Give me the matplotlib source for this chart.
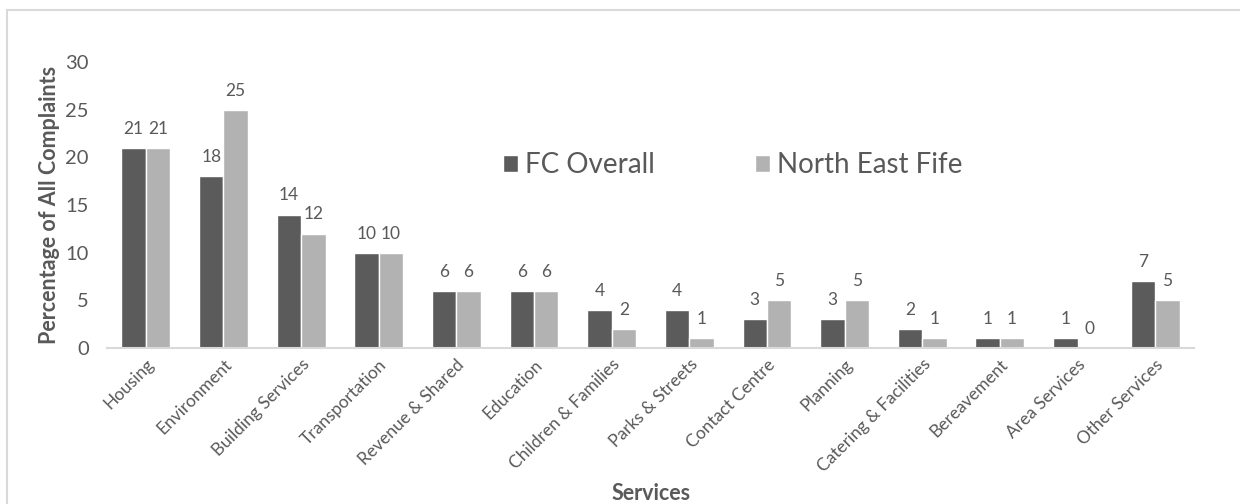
import matplotlib.pyplot as plt
import matplotlib.patches as mpatches
import numpy as np

plt.rcParams['font.family'] = ['Lato', 'DejaVu Sans']

services = ["Housing", "Environment", "Building Services", "Transportation",
            "Revenue & Shared", "Education", "Children & Families",
            "Parks & Streets", "Contact Centre", "Planning",
            "Catering & Facilities", "Bereavement", "Area Services",
            "Other Services"]
fc_overall = [21, 18, 14, 10, 6, 6, 4, 4, 3, 3, 2, 1, 1, 7]
north_east_fife = [21, 25, 12, 10, 6, 6, 2, 1, 5, 5, 1, 1, 0, 5]

dark = "#5b5b5b"
light = "#b2b2b2"
text_col = "#595959"

fig = plt.figure(figsize=(12.4, 5.04), dpi=100)
ax = fig.add_axes([107 / 1240, 1 - 348 / 504, (1194 - 107) / 1240, (348 - 62) / 504])

x = np.arange(len(services))
w = 0.315
b1 = ax.bar(x - w / 2, fc_overall, w, color=dark, edgecolor="white", linewidth=1, label="FC Overall")
b2 = ax.bar(x + w / 2, north_east_fife, w, color=light, edgecolor="white", linewidth=1, label="North East Fife")

for bars in (b1, b2):
    ax.bar_label(bars, padding=8, fontsize=12.5, color=text_col)

ax.set_xlim(-0.5, len(services) - 0.5)
ax.set_ylim(0, 30)
ax.set_yticks(range(0, 31, 5))
ax.set_xticks(x)
ax.set_xticklabels(services, rotation=45, ha="right", rotation_mode="anchor")
ax.tick_params(axis="both", length=0, labelcolor=text_col)
ax.tick_params(axis="y", pad=13, labelsize=14.5)
ax.tick_params(axis="x", pad=6, labelsize=12.5)

for s in ["top", "right", "left"]:
    ax.spines[s].set_visible(False)
ax.spines["bottom"].set_color("#d9d9d9")
ax.spines["bottom"].set_linewidth(1.5)

ax.set_ylabel("Percentage of All Complaints", fontsize=15.5, fontweight="bold", color=text_col, labelpad=4)
fig.text(651 / 1240, 1 - 493 / 504, "Services", fontsize=15.5, fontweight="bold",
         color=text_col, ha="center", va="center")

ax.legend(loc="center", bbox_to_anchor=(733 / 1240, 1 - 165 / 504), bbox_transform=fig.transFigure,
          ncol=2, frameon=False, fontsize=20, labelcolor=text_col, handlelength=0.55,
          handleheight=0.55, handletextpad=0.25, columnspacing=3.6)

# outer chart frame
frame = mpatches.Rectangle((7 / 1240, -0.1), 1.2, 1.1 - 10 / 504, transform=fig.transFigure,
                           fill=False, edgecolor="#d9d9d9", linewidth=1.5, clip_on=False)
fig.patches.append(frame)

fig.savefig("out.png", dpi=100)
